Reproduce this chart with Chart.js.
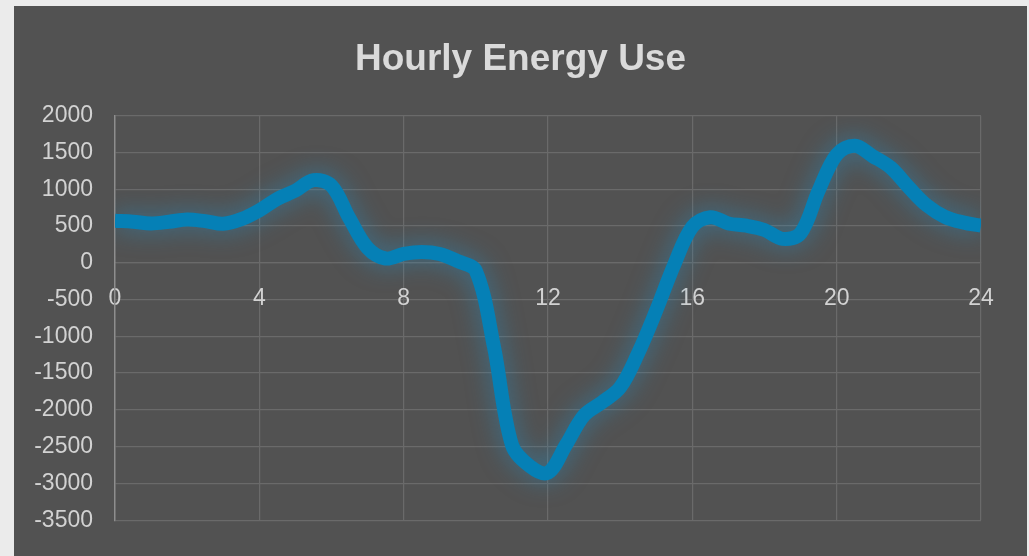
<!DOCTYPE html>
<html>
<head>
<meta charset="utf-8">
<title>Hourly Energy Use</title>
<script src="https://cdn.jsdelivr.net/npm/chart.js@4.4.1/dist/chart.umd.min.js"></script>
<style>
  html, body { margin: 0; padding: 0; background: #ebebeb; width: 1029px; height: 556px; overflow: hidden; }
  #frame { position: absolute; left: 14px; top: 6px; width: 1013px; height: 550px; background: #525252; }
  canvas { display: block; }
</style>
</head>
<body>
<div id="frame"><canvas id="chart" width="1013" height="550"></canvas></div>
<script>
// Half-hourly readings across the day (hour of day, net energy use)
const hours = [
  0, 0.5, 1, 1.5, 2, 2.5, 3, 3.5, 4, 4.5,
  5, 5.5, 6, 6.5, 7, 7.5, 8, 8.5, 9, 9.5,
  10, 10.5, 11, 11.5, 12, 12.5, 13, 13.5, 14, 14.5,
  15, 15.5, 16, 16.5, 17, 17.5, 18, 18.5, 19, 19.5,
  20, 20.5, 21, 21.5, 22, 22.5, 23, 23.5, 24
];
const energyUse = [
  571, 558, 535, 558, 589, 566, 531, 593, 713, 870,
  981, 1124, 1048, 602, 201, 58, 120, 147, 120, 22,
  -110, -1137, -2475, -2766, -2855, -2475, -2074, -1896, -1695, -1227,
  -647, -22, 491, 620, 535, 504, 446, 325, 401, 981,
  1472, 1592, 1450, 1294, 1026, 780, 625, 549, 504
];
const xTicks = [0, 4, 8, 12, 16, 20, 24];
const yRange = { min: -3500, max: 2000, step: 500 };

const points = hours.map((h, i) => ({ x: h, y: energyUse[i] }));

const labelFont = { family: "'Liberation Sans', Arial, sans-serif", size: 23 };
const gridColor = '#6a6a6a';
const textColor = '#d2d2d2';

// Soft glow around the line
const glowPlugin = {
  id: 'lineGlow',
  beforeDatasetsDraw(chart) {
    const ctx = chart.ctx;
    ctx.save();
    ctx.shadowColor = 'rgba(40,140,190,0.6)';
    ctx.shadowBlur = 24;
    ctx.shadowOffsetX = 0;
    ctx.shadowOffsetY = 0;
  },
  afterDatasetsDraw(chart) {
    chart.ctx.restore();
  }
};

new Chart(document.getElementById('chart'), {
  type: 'line',
  data: {
    datasets: [{
      label: 'Energy use',
      data: points,
      borderColor: '#0580b6',
      borderWidth: 14,
      borderCapStyle: 'butt',
      borderJoinStyle: 'round',
      pointRadius: 0,
      pointHoverRadius: 0,
      fill: false,
      tension: 0.35,
      clip: 0
    }]
  },
  options: {
    responsive: false,
    animation: false,
    devicePixelRatio: 1,
    layout: { padding: { left: 0, right: 0, top: 0, bottom: 29.3 } },
    plugins: {
      legend: { display: false },
      tooltip: { enabled: false },
      title: {
        display: true,
        text: 'Hourly Energy Use',
        color: '#dadada',
        font: { family: "'Liberation Sans', Arial, sans-serif", size: 37, weight: 'bold' },
        padding: { top: 32, bottom: 33.3 }
      }
    },
    scales: {
      x: {
        type: 'linear',
        position: { y: 0 },
        min: 0,
        max: 24,
        afterBuildTicks(scale) {
          scale.ticks = xTicks.map(v => ({ value: v }));
        },
        ticks: { color: textColor, font: labelFont, padding: 22, maxRotation: 0 },
        grid: {
          drawTicks: false,
          lineWidth: 1.25,
          color: (c) => (c.tick && c.tick.value === 0 ? 'rgba(0,0,0,0)' : gridColor)
        },
        border: { display: true, color: gridColor, width: 1.25 }
      },
      y: {
        type: 'linear',
        position: 'left',
        min: yRange.min,
        max: yRange.max,
        ticks: {
          stepSize: yRange.step,
          color: textColor,
          font: labelFont,
          padding: 22,
          callback: (v) => String(v)
        },
        grid: { drawTicks: false, lineWidth: 1.25, color: gridColor },
        border: { display: true, color: '#8e8e8e', width: 1.5 },
        afterFit(scale) { scale.width = 101; }
      },
      // empty spacer on the right so the plot ends short of the frame edge
      spacer: {
        type: 'linear',
        position: 'right',
        display: true,
        ticks: { display: false },
        grid: { display: false },
        border: { display: false },
        afterFit(scale) { scale.width = 46; }
      }
    }
  },
  plugins: [glowPlugin]
});
</script>
</body>
</html>
